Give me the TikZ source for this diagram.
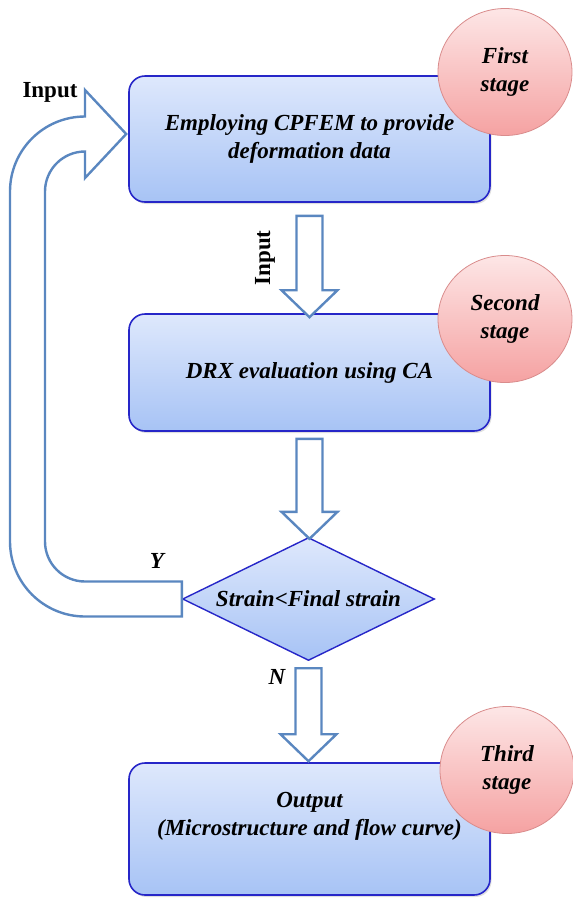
\documentclass[tikz,border=0pt]{standalone}
\usepackage{fontspec}
\setmainfont{Liberation Serif}
\usetikzlibrary{positioning,calc,shapes.geometric,shadows}
\definecolor{boxtop}{HTML}{DEE8FC}
\definecolor{boxbot}{HTML}{A7C3F5}
\definecolor{boxline}{HTML}{2626C8}
\definecolor{stagetop}{HTML}{FDE6E6}
\definecolor{stagebot}{HTML}{F5A2A2}
\definecolor{stageline}{HTML}{D98C8C}
\definecolor{arrowblue}{HTML}{5A87C0}

% hollow block arrow pointing down, from #1 to the tip #2
\newcommand{\hollowdown}[2]{%
  \draw[hollow] let \p1=(#1), \p2=(#2) in
    (\x1-13pt,\y1) -- (\x1+13pt,\y1) -- (\x1+13pt,\y2+27pt) -- (\x1+28pt,\y2+27pt)
    -- (\x1,\y2) -- (\x1-28pt,\y2+27pt) -- (\x1-13pt,\y2+27pt) -- cycle;}

\begin{document}
\begin{tikzpicture}[x=1pt,y=1pt,%
    txt/.style    = {font=\fontsize{23}{28}\selectfont\bfseries\itshape, align=center},
    block/.style  = {draw=boxline, line width=1.6pt, rectangle, rounded corners=16pt,
                     top color=boxtop, bottom color=boxbot, minimum width=361pt,
                     drop shadow={shadow xshift=1.5pt, shadow yshift=-2pt, opacity=0.25},
                     txt},
    decide/.style = {draw=boxline, line width=1.4pt, diamond, inner sep=0pt,
                     top color=boxtop, bottom color=boxbot,
                     minimum width=252pt, minimum height=123pt},
    stage/.style  = {draw=stageline, line width=0.8pt, ellipse, inner sep=0pt,
                     top color=stagetop, bottom color=stagebot,
                     minimum width=134pt, minimum height=127pt, txt},
    hollow/.style = {draw=arrowblue, fill=white, line width=2.4pt, line join=miter},
    lbl/.style    = {font=\fontsize{23}{28}\selectfont\bfseries}]

  \useasboundingbox (0,0) rectangle (573,-898);

  % the three stages and the check
  \draw (309.5,-139) node[block, minimum height=126pt] (cpfem) {Employing CPFEM to provide\\deformation data};
  \draw (309.5,-372.5) node[block, minimum height=117pt] (drx) {DRX evaluation using CA};
  \draw (308.5,-599) node[decide] (chk) {};
  \draw (chk) node[txt] (chktxt) {Strain<Final strain};
  \draw (309.5,-829) node[block, minimum height=132pt] (outp) {};
  \draw ($(outp)+(0,13)$) node[txt] (outtxt) {Output\\(Microstructure and flow curve)};

  \draw (505,-72) node[stage] (st1) {First\\stage};
  \draw (505,-319) node[stage] (st2) {Second\\stage};
  \draw (507,-770) node[stage] (st3) {Third\\stage};

  % arrows between the blocks
  \hollowdown{$(cpfem.south)+(0,-13)$}{$(drx.north)+(0,-4)$}
  \hollowdown{$(drx.south)+(0,-7)$}{$(chk.north)+(0,-2)$}
  \hollowdown{$(chk.south)+(0,-7)$}{$(outp.north)+(0,1)$}

  % loop back from the check to the first stage
  \draw[hollow] let \p1=(chk.west), \p2=($(cpfem.west)+(-2,5)$) in
    (\x1,\y1+17.5pt) -- (85pt,\y1+17.5pt) arc[start angle=270, end angle=180, radius=40pt]
    -- (45pt,\y2-57.5pt) arc[start angle=180, end angle=90, radius=40pt]
    -- (85pt,\y2-44pt) -- (\x2,\y2) -- (85pt,\y2+44pt)
    -- (85pt,\y2+17.5pt) arc[start angle=90, end angle=180, radius=75pt]
    -- (10pt,\y1+57.5pt) arc[start angle=180, end angle=270, radius=75pt]
    -- (\x1,\y1-17.5pt) -- cycle;

  % labels
  \draw (50,-92) node[lbl] (in1) {Input};
  \draw (265,-258) node[lbl, rotate=90] (in2) {Input};
  \draw (157,-561) node[txt] (yes) {Y};
  \draw (277,-677) node[txt] (no) {N};

\end{tikzpicture}
\end{document}
